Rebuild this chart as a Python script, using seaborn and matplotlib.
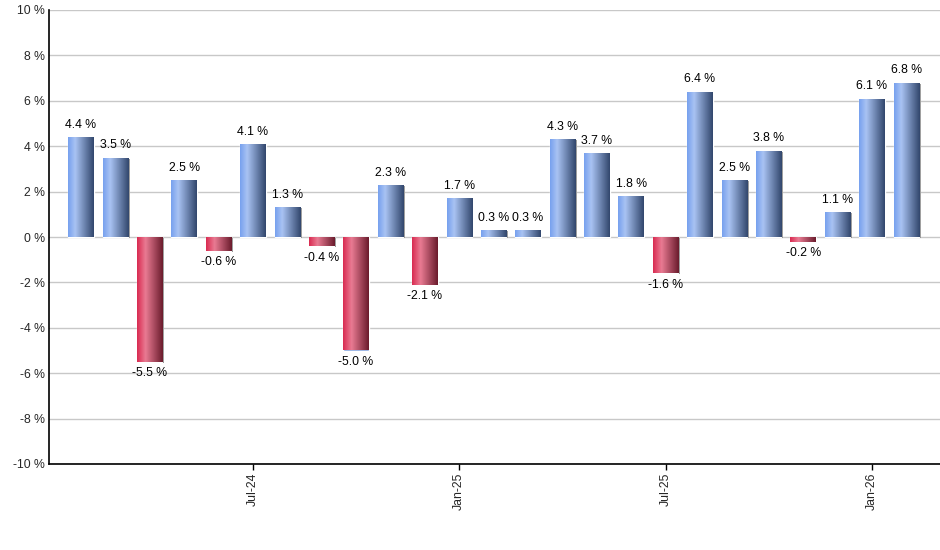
import numpy as np
import pandas as pd
import seaborn as sns
import matplotlib.pyplot as plt
from matplotlib.colors import LinearSegmentedColormap
from matplotlib.patches import Rectangle
import matplotlib.transforms as mtransforms

months = ["Feb-24", "Mar-24", "Apr-24", "May-24", "Jun-24", "Jul-24",
          "Aug-24", "Sep-24", "Oct-24", "Nov-24", "Dec-24", "Jan-25",
          "Feb-25", "Mar-25", "Apr-25", "May-25", "Jun-25", "Jul-25",
          "Aug-25", "Sep-25", "Oct-25", "Nov-25", "Dec-25", "Jan-26",
          "Feb-26"]
returns = [4.4, 3.5, -5.5, 2.5, -0.6, 4.1, 1.3, -0.4, -5.0, 2.3, -2.1, 1.7,
           0.3, 0.3, 4.3, 3.7, 1.8, -1.6, 6.4, 2.5, 3.8, -0.2, 1.1, 6.1, 6.8]
shown_ticks = ["Jul-24", "Jan-25", "Jul-25", "Jan-26"]
y_ticks = [-10, -8, -6, -4, -2, 0, 2, 4, 6, 8, 10]

blue_cmap = LinearSegmentedColormap.from_list(
    "blue", [(0, "#76a0ee"), (0.28, "#a9c3f3"), (1, "#31466c")])
red_cmap = LinearSegmentedColormap.from_list(
    "red", [(0, "#d92a50"), (0.33, "#e97b93"), (1, "#6a1b2c")])


def main():
    df = pd.DataFrame({"month": months, "ret": returns})
    sns.set_style("white")
    plt.rcParams["font.family"] = ["Liberation Sans", "DejaVu Sans"]
    fig = plt.figure(figsize=(9.4, 5.5), dpi=100)
    ax = fig.add_axes([49 / 940, 1 - 464 / 550, 891 / 940, 454 / 550])
    sns.barplot(data=df, x="month", y="ret", order=months, color="#7aa2ee",
                width=0.74, ax=ax, zorder=3)

    grad = np.linspace(0, 1, 256).reshape(1, -1)
    shadow_off = mtransforms.offset_copy(ax.transData, fig=fig,
                                         x=1.5, y=-1.0, units="dots")
    for patch, val in zip(ax.patches, df["ret"]):
        x0, y0 = patch.get_x(), patch.get_y()
        w, h = patch.get_width(), patch.get_height()
        ax.add_patch(Rectangle((x0, y0), w, h, transform=shadow_off,
                               facecolor="#8a8a8a", edgecolor="none",
                               zorder=2.5))
        cmap = blue_cmap if val >= 0 else red_cmap
        img = ax.imshow(grad, cmap=cmap, aspect="auto",
                        extent=(x0, x0 + w, min(y0, y0 + h), max(y0, y0 + h)),
                        zorder=3.5, interpolation="bilinear")
        img.set_clip_path(patch)
        if val >= 0:
            ax.annotate(f"{val:.1f} %", (x0 + w / 2, val), xytext=(0, 4.5),
                        textcoords="offset points", ha="center", va="bottom",
                        fontsize=8.8, color="black")
        else:
            ax.annotate(f"{val:.1f} %", (x0 + w / 2, val), xytext=(0, -4),
                        textcoords="offset points", ha="center", va="top",
                        fontsize=8.8, color="black")

    ax.set_xlim(-0.93, 24.98)
    ax.set_ylim(-10, 10)
    ax.set_yticks(y_ticks)
    ax.set_yticklabels([f"{t} %" for t in y_ticks], fontsize=8.8)
    ax.yaxis.grid(True, color="#c8c8c8", linewidth=1, zorder=0)
    ax.set_axisbelow(True)
    ax.set_xticks([months.index(m) for m in shown_ticks])
    ax.set_xticklabels(shown_ticks, rotation=90, fontsize=8.8)
    ax.tick_params(axis="x", length=4, width=1, color="black", direction="out",
                   bottom=True, pad=2)
    ax.tick_params(axis="y", length=0, pad=3)
    ax.set_xlabel("")
    ax.set_ylabel("")
    for side in ["top", "right"]:
        ax.spines[side].set_visible(False)
    for side in ["left", "bottom"]:
        ax.spines[side].set_color("black")
        ax.spines[side].set_linewidth(1.2)
    fig.savefig("out.png", dpi=100)


if __name__ == "__main__":
    main()
